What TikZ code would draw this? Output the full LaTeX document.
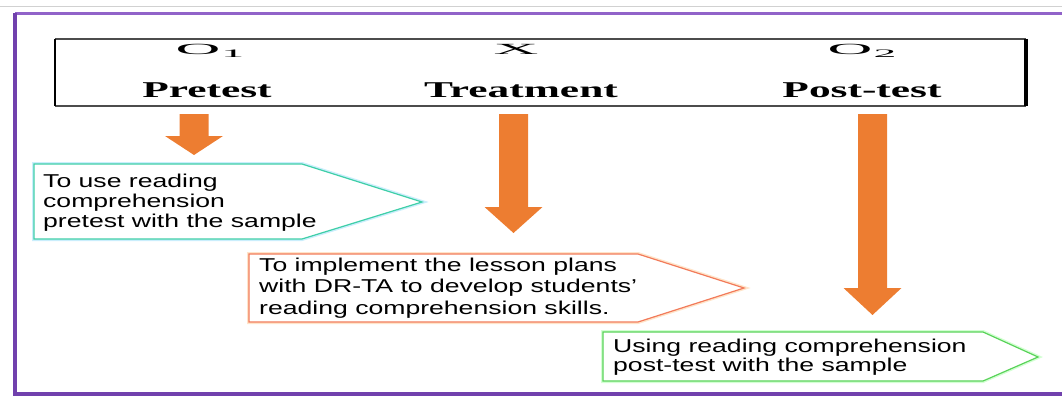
\documentclass[tikz,border=0pt]{standalone}
\usepackage{fontspec}
\usepackage{tikz}

\newfontfamily\headfont[FakeStretch=1.92]{Liberation Serif}
\newfontfamily\markfont[FakeStretch=4.0]{Liberation Serif}
\newfontfamily\notefont[FakeStretch=1.43]{Liberation Sans}

\definecolor{arroworange}{HTML}{ED7D31}
\definecolor{framepurple}{HTML}{7E48C0}
\definecolor{tealline}{HTML}{3FCFA8}
\definecolor{redline}{HTML}{F27B5A}
\definecolor{greenline}{HTML}{5AD35A}

\tikzset{
  headtext/.style={font=\headfont\bfseries\fontsize{22.6}{24}\selectfont, inner sep=0pt, anchor=base},
  marktext/.style={font=\markfont\fontsize{15.5}{16}\selectfont, inner sep=0pt, anchor=base},
  notetext/.style={font=\notefont\fontsize{18.6}{20}\selectfont, align=left, inner sep=0pt, anchor=base west},
  glow/.style={line width=4pt, draw=#1, opacity=0.35},
}

\newcommand{\subone}[1]{\kern1pt\raisebox{-2pt}{\fontsize{11.4}{12}\selectfont #1}}

\begin{document}
\begin{tikzpicture}[x=1pt, y=-1pt]
    \useasboundingbox (0,0) rectangle (1062,396);

    % Outer frame
    \draw[black!18, line width=1pt] (0,7) -- (1062,7);
    \draw[framepurple!85, line width=3pt] (15,14) -- (1062,14);
    \draw[framepurple!90!black, line width=3.5pt] (15,13) -- (15,394) -- (1062,394);

    % Header table
    \coordinate (TL) at (55,39);
    \coordinate (TR) at (1026,39);
    \coordinate (BL) at (55,106);
    \coordinate (BR) at (1026,106);
    \draw[black!70, line width=1.2pt] (TL) -- (TR) (BL) -- (BR);
    \draw[line width=2.5pt] (TL) -- (BL);
    \draw[line width=3.5pt] (TR) -- (BR);

    % Design labels
    \node[marktext] (o1) at (210,55) {O\subone{1}};
    \node[marktext] (x) at (516,55) {X};
    \node[marktext] (o2) at (862,55) {O\subone{2}};
    \node[headtext] (pre) at (207,97) {Pretest};
    \node[headtext] (treat) at (521,97) {Treatment};
    \node[headtext] (post) at (862,97) {Post-test};

    % Block arrows
    \foreach \cx/\hy/\ty in {194/136/155, 513.5/207/233, 872.5/288/315}
        \fill[arroworange] (\cx-14.5,114) -- (\cx+14.5,114) -- (\cx+14.5,\hy) -- (\cx+29,\hy)
            -- (\cx,\ty) -- (\cx-29,\hy) -- (\cx-14.5,\hy) -- cycle;

    % Callout for the pretest
    \coordinate (A1) at (34,164);
    \coordinate (A2) at (302,164);
    \coordinate (A3) at (422,202);
    \coordinate (A4) at (302,239);
    \coordinate (A5) at (34,239);
    \draw[glow=cyan!60] (A1) -- (A2) -- (A3) -- (A4) -- (A5) -- cycle;
    \draw[tealline, line width=1.2pt, fill=white] (A1) -- (A2) -- (A3) -- (A4) -- (A5) -- cycle;
    \node[notetext] (note1) at (43,227) {To use reading\\comprehension\\pretest with the sample};

    % Callout for the treatment
    \coordinate (B1) at (249,254);
    \coordinate (B2) at (638,254);
    \coordinate (B3) at (744,288);
    \coordinate (B4) at (638,322);
    \coordinate (B5) at (249,322);
    \draw[glow=orange!60] (B1) -- (B2) -- (B3) -- (B4) -- (B5) -- cycle;
    \draw[redline, line width=1.2pt, fill=white] (B1) -- (B2) -- (B3) -- (B4) -- (B5) -- cycle;
    \node[notetext, font=\notefont\fontsize{18.6}{21.5}\selectfont] (note2) at (259,314)
        {To implement the lesson plans\\with DR-TA to develop students’\\reading comprehension skills.};

    % Callout for the post-test
    \coordinate (C1) at (603,332);
    \coordinate (C2) at (983,332);
    \coordinate (C3) at (1038,357);
    \coordinate (C4) at (983,381);
    \coordinate (C5) at (603,381);
    \draw[glow=green!50] (C1) -- (C2) -- (C3) -- (C4) -- (C5) -- cycle;
    \draw[greenline, line width=1.2pt, fill=white] (C1) -- (C2) -- (C3) -- (C4) -- (C5) -- cycle;
    \node[notetext, font=\notefont\fontsize{18.6}{17}\selectfont] (note3) at (613,371)
        {Using reading comprehension\\post-test with the sample};

\end{tikzpicture}
\end{document}
